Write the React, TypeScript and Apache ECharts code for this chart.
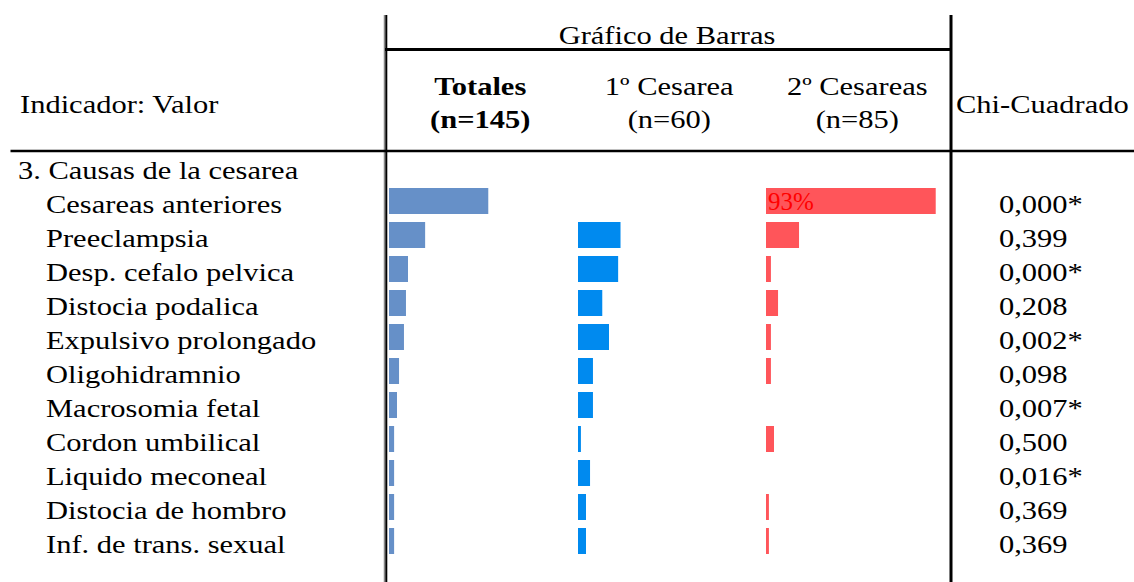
import React, { useEffect, useRef } from "react";
import * as echarts from "echarts";

// ---- data ----
const sectionTitle = "3. Causas de la cesarea";
const categories = [
  "Cesareas anteriores",
  "Preeclampsia",
  "Desp. cefalo pelvica",
  "Distocia podalica",
  "Expulsivo prolongado",
  "Oligohidramnio",
  "Macrosomia fetal",
  "Cordon umbilical",
  "Liquido meconeal",
  "Distocia de hombro",
  "Inf. de trans. sexual",
];
// percentages
const totales = [54.4, 19.8, 10.4, 9.3, 8.2, 5.5, 4.4, 2.8, 2.8, 2.8, 2.8];
const primeraCesarea = [0, 23.3, 22.0, 13.3, 17.0, 8.2, 8.2, 1.6, 6.6, 4.4, 4.4];
const segundaCesarea = [93, 18.1, 2.7, 6.6, 2.7, 2.7, 0, 4.4, 0, 1.6, 1.6];
const chiCuadrado = [
  "0,000*", "0,399", "0,000*", "0,208", "0,002*", "0,098",
  "0,007*", "0,500", "0,016*", "0,369", "0,369",
];
const columnTitles = ["Totales", "1º Cesarea", "2º Cesareas"];
const columnN = ["(n=145)", "(n=60)", "(n=85)"];
const headerTitle = "Gráfico de Barras";
const indicatorTitle = "Indicador: Valor";
const chiTitle = "Chi-Cuadrado";

// ---- styles ----
const FONT = '"Liberation Serif", "Times New Roman", serif';
const FS = 25;
const SX = 1.22;
const COLORS = ["#6690C8", "#008AEF", "#FF555A"];
const COL_LEFTS = [389, 578, 766];
const COL_W = 182.5;

export default function App() {
  const ref = useRef<HTMLDivElement>(null);

  useEffect(() => {
    if (!ref.current) return;
    const chart = echarts.init(ref.current, null, { renderer: "svg" });
    const seriesData = [totales, primeraCesarea, segundaCesarea];

    chart.setOption({
      animation: false,
      backgroundColor: "#ffffff",
      grid: COL_LEFTS.map((l) => ({ left: l, top: 184, width: COL_W, height: 374 })),
      xAxis: COL_LEFTS.map((_, i) => ({
        type: "value",
        gridIndex: i,
        min: 0,
        max: 100,
        show: false,
        splitLine: { show: false },
      })),
      yAxis: COL_LEFTS.map((_, i) => ({
        type: "category",
        gridIndex: i,
        data: categories,
        inverse: true,
        show: false,
      })),
      series: seriesData.map((d, i) => ({
        type: "bar",
        xAxisIndex: i,
        yAxisIndex: i,
        barWidth: 26,
        itemStyle: { color: COLORS[i] },
        data: d.map((v, j) =>
          i === 2 && j === 0
            ? {
                value: v,
                label: {
                  show: true,
                  position: "insideLeft",
                  distance: 2,
                  formatter: Math.round(v) + "%",
                  color: "#FF0000",
                  fontSize: 25,
                  fontFamily: FONT,
                },
              }
            : v
        ),
      })),
    });

    const y0 = chart.convertToPixel({ yAxisIndex: 0 }, categories[0]) as number;
    const y1 = chart.convertToPixel({ yAxisIndex: 0 }, categories[1]) as number;
    const step = y1 - y0;
    const OFF = 3;

    const txt = (text: string, x: number, y: number, align: string, bold = false) => ({
      type: "text",
      x,
      y,
      scaleX: SX,
      silent: true,
      style: {
        text,
        fill: "#000",
        fontSize: FS,
        fontFamily: FONT,
        fontWeight: bold ? "bold" : "normal",
        textAlign: align,
        align,
        textVerticalAlign: "middle",
        verticalAlign: "middle",
      },
    });
    const line = (x1: number, y1_: number, x2: number, y2: number, w: number, c = "#000") => ({
      type: "line",
      silent: true,
      shape: { x1, y1: y1_, x2, y2 },
      style: { stroke: c, lineWidth: w },
    });

    const els: any[] = [];
    els.push(txt(headerTitle, 667, 35, "center"));
    els.push(txt(indicatorTitle, 20, 104, "left"));
    els.push(txt(chiTitle, 956, 104, "left"));
    columnTitles.forEach((t, i) => {
      const cx = COL_LEFTS[i] + COL_W / 2;
      els.push(txt(t, cx, 86, "center", i === 0));
      els.push(txt(columnN[i], cx, 119, "center", i === 0));
    });
    els.push(txt(sectionTitle, 18, y0 - step + OFF, "left"));
    categories.forEach((c, i) => {
      const y = chart.convertToPixel({ yAxisIndex: 0 }, c) as number;
      els.push(txt(c, 46, y + OFF, "left"));
      els.push(txt(chiCuadrado[i], 999, y + OFF, "left"));
    });
    // table rules
    els.push(line(384.5, 15, 384.5, 582, 1.5, "#888"));
    els.push(line(386.3, 15, 386.3, 582, 2));
    els.push(line(951, 15, 951, 582, 3));
    els.push(line(385, 49.5, 951, 49.5, 3));
    els.push(line(10.5, 151, 1134, 151, 2.5));

    chart.setOption({ graphic: els });

    return () => chart.dispose();
  }, []);

  return (
    <div
      ref={ref}
      style={{ position: "absolute", left: 0, top: 0, width: 1134, height: 582 }}
    />
  );
}
